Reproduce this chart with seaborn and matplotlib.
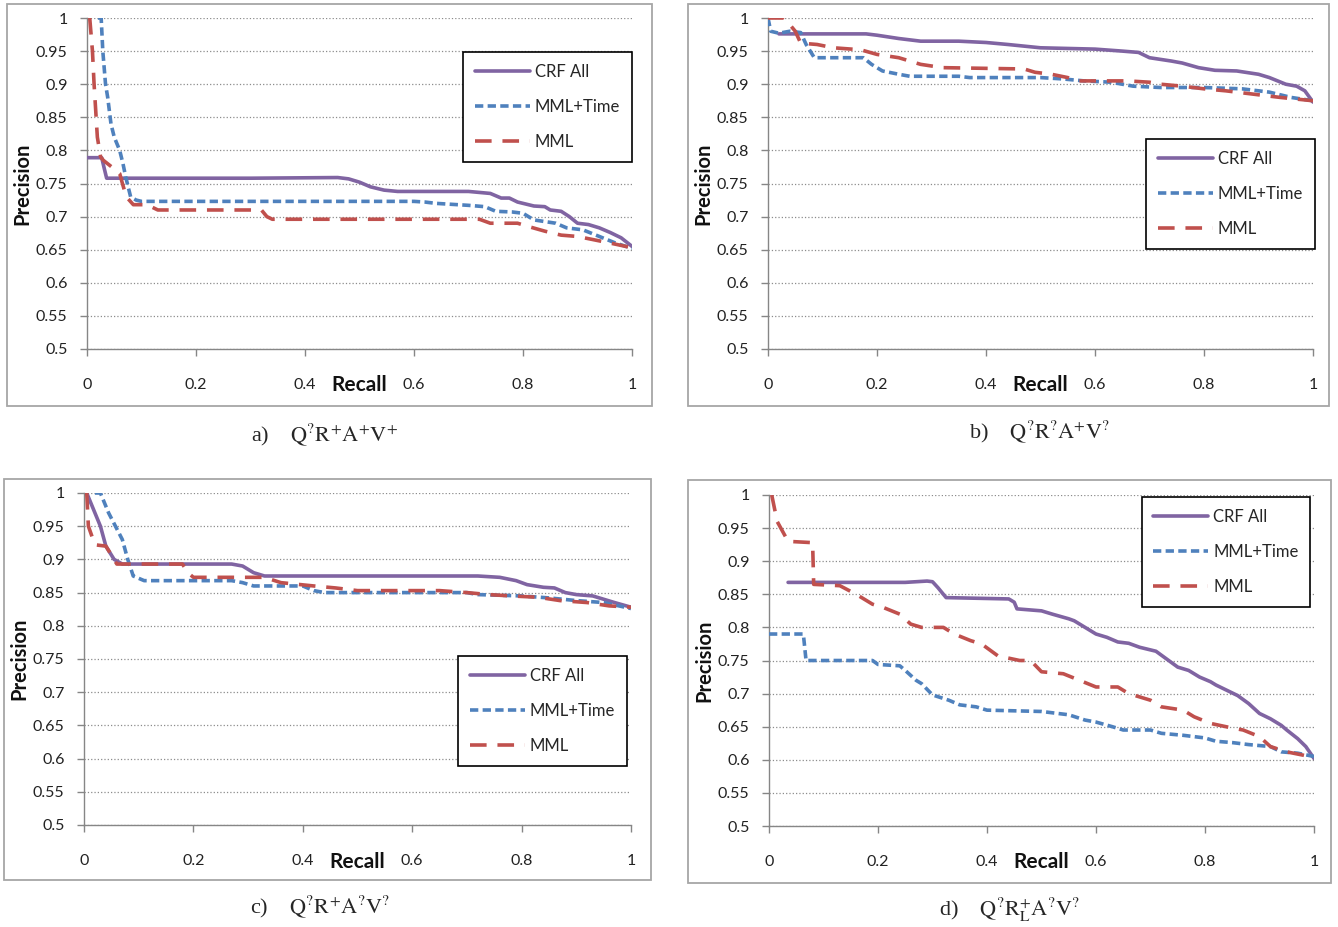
import numpy as np
import pandas as pd
import seaborn as sns
import matplotlib.pyplot as plt
from matplotlib.lines import Line2D
from matplotlib.patches import Rectangle

sns.set_style("ticks")
plt.rcParams['font.family'] = ['Lato', 'DejaVu Sans']
plt.rcParams['mathtext.fontset'] = 'stix'

methods = ["CRF All", "MML+Time", "MML"]
colors = {"CRF All": "#8064A2", "MML+Time": "#4F81BD", "MML": "#C0504D"}
dash_styles = {"CRF All": "", "MML+Time": (2.3, 1.2), "MML": (4.6, 3.0)}

xticks = [0, 0.2, 0.4, 0.6, 0.8, 1]
xticklabels = ["0", "0.2", "0.4", "0.6", "0.8", "1"]
yticks = [0.5, 0.55, 0.6, 0.65, 0.7, 0.75, 0.8, 0.85, 0.9, 0.95, 1.0]
yticklabels = ["0.5", "0.55", "0.6", "0.65", "0.7", "0.75", "0.8", "0.85", "0.9", "0.95", "1"]

# ---- panel a
a_crf_x = [0.0, 0.027, 0.031, 0.036, 0.10, 0.30, 0.46, 0.48, 0.50, 0.52, 0.545, 0.57, 0.70, 0.74, 0.76,
           0.775, 0.79, 0.80, 0.82, 0.84, 0.85, 0.87, 0.885, 0.90, 0.92, 0.94, 0.96, 0.98, 1.0]
a_crf_y = [0.789, 0.789, 0.775, 0.758, 0.758, 0.758, 0.759, 0.757, 0.752, 0.745, 0.740, 0.738, 0.738, 0.735, 0.728,
           0.728, 0.722, 0.720, 0.716, 0.715, 0.710, 0.708, 0.700, 0.690, 0.688, 0.683, 0.676, 0.668, 0.655]
a_time_x = [0.020, 0.026, 0.029, 0.034, 0.038, 0.044, 0.050, 0.060, 0.066, 0.071, 0.080, 0.090, 0.100, 0.30, 0.60,
            0.62, 0.64, 0.70, 0.73, 0.75, 0.78, 0.80, 0.82, 0.86, 0.88, 0.91, 0.94, 0.97, 1.0]
a_time_y = [1.0, 1.0, 0.95, 0.90, 0.88, 0.84, 0.82, 0.80, 0.78, 0.76, 0.73, 0.725, 0.723, 0.723, 0.723,
            0.722, 0.720, 0.717, 0.715, 0.708, 0.707, 0.705, 0.695, 0.690, 0.683, 0.680, 0.670, 0.660, 0.652]
a_mml_x = [0.005, 0.010, 0.013, 0.016, 0.019, 0.025, 0.030, 0.050, 0.060, 0.065, 0.072, 0.085, 0.11, 0.13,
           0.32, 0.33, 0.34, 0.72, 0.74, 0.79, 0.81, 0.84, 0.87, 0.90, 0.93, 0.96, 1.0]
a_mml_y = [1.0, 0.95, 0.90, 0.86, 0.82, 0.79, 0.785, 0.772, 0.765, 0.75, 0.73, 0.718, 0.718, 0.71,
           0.71, 0.70, 0.696, 0.696, 0.690, 0.690, 0.685, 0.678, 0.672, 0.670, 0.665, 0.660, 0.653]

# ---- panel b
b_crf_x = [0.02, 0.18, 0.20, 0.24, 0.28, 0.35, 0.40, 0.44, 0.50, 0.55, 0.60, 0.65, 0.68, 0.70, 0.74, 0.76,
           0.79, 0.82, 0.86, 0.90, 0.92, 0.95, 0.97, 0.985, 1.0]
b_crf_y = [0.976, 0.976, 0.974, 0.969, 0.965, 0.965, 0.963, 0.960, 0.955, 0.954, 0.953, 0.950, 0.948, 0.940,
           0.935, 0.932, 0.925, 0.921, 0.920, 0.915, 0.910, 0.900, 0.897, 0.890, 0.873]
b_time_x = [0.0, 0.005, 0.02, 0.04, 0.06, 0.07, 0.085, 0.175, 0.19, 0.21, 0.24, 0.26, 0.35, 0.37, 0.50, 0.54,
            0.58, 0.63, 0.67, 0.72, 0.80, 0.87, 0.92, 0.96, 1.0]
b_time_y = [1.0, 0.980, 0.977, 0.980, 0.978, 0.960, 0.940, 0.940, 0.930, 0.920, 0.915, 0.912, 0.912, 0.910,
            0.910, 0.908, 0.905, 0.903, 0.897, 0.895, 0.895, 0.893, 0.888, 0.880, 0.875]
b_mml_x = [0.0, 0.03, 0.05, 0.06, 0.09, 0.12, 0.17, 0.20, 0.24, 0.28, 0.32, 0.47, 0.49, 0.52, 0.55, 0.57,
           0.66, 0.70, 0.72, 0.76, 0.80, 0.84, 0.89, 0.94, 1.0]
b_mml_y = [1.0, 1.0, 0.98, 0.962, 0.96, 0.955, 0.952, 0.945, 0.940, 0.930, 0.925, 0.923, 0.918, 0.915, 0.910,
           0.905, 0.905, 0.903, 0.900, 0.897, 0.893, 0.890, 0.885, 0.880, 0.875]

# ---- panel c
c_crf_x = [0.005, 0.03, 0.04, 0.055, 0.07, 0.27, 0.29, 0.31, 0.33, 0.72, 0.76, 0.79, 0.81, 0.84, 0.86, 0.88,
           0.90, 0.93, 0.95, 0.97, 1.0]
c_crf_y = [1.0, 0.95, 0.92, 0.90, 0.893, 0.893, 0.89, 0.88, 0.875, 0.875, 0.873, 0.868, 0.862, 0.858, 0.857,
           0.850, 0.847, 0.845, 0.840, 0.835, 0.828]
c_time_x = [0.02, 0.03, 0.045, 0.07, 0.08, 0.09, 0.11, 0.27, 0.29, 0.31, 0.40, 0.42, 0.44, 0.70, 0.72, 0.80,
            0.85, 0.90, 0.95, 1.0]
c_time_y = [1.0, 1.0, 0.97, 0.93, 0.90, 0.875, 0.868, 0.868, 0.865, 0.86, 0.86, 0.853, 0.85, 0.85, 0.847,
            0.845, 0.842, 0.838, 0.835, 0.826]
c_mml_x = [0.005, 0.008, 0.02, 0.04, 0.055, 0.06, 0.18, 0.19, 0.20, 0.33, 0.36, 0.42, 0.46, 0.50, 0.65, 0.70,
           0.74, 0.78, 0.83, 0.87, 0.92, 0.96, 1.0]
c_mml_y = [1.0, 0.95, 0.922, 0.92, 0.90, 0.893, 0.893, 0.88, 0.873, 0.873, 0.865, 0.86, 0.857, 0.853, 0.853,
           0.85, 0.847, 0.845, 0.843, 0.838, 0.835, 0.830, 0.828]

# ---- panel d
d_crf_x = [0.035, 0.25, 0.29, 0.30, 0.31, 0.325, 0.44, 0.45, 0.455, 0.50, 0.52, 0.55, 0.56, 0.58, 0.60, 0.62,
           0.64, 0.66, 0.68, 0.71, 0.73, 0.75, 0.77, 0.79, 0.81, 0.82, 0.84, 0.86, 0.88, 0.90, 0.92, 0.94,
           0.95, 0.97, 0.985, 1.0]
d_crf_y = [0.868, 0.868, 0.870, 0.869, 0.860, 0.845, 0.843, 0.838, 0.828, 0.825, 0.820, 0.813, 0.810, 0.800,
           0.790, 0.785, 0.778, 0.776, 0.770, 0.764, 0.752, 0.740, 0.735, 0.725, 0.718, 0.713, 0.705, 0.697,
           0.685, 0.670, 0.662, 0.652, 0.645, 0.632, 0.620, 0.602]
d_time_x = [0.0, 0.063, 0.068, 0.19, 0.20, 0.24, 0.25, 0.27, 0.28, 0.30, 0.33, 0.35, 0.38, 0.40, 0.50, 0.55,
            0.58, 0.60, 0.63, 0.65, 0.70, 0.72, 0.76, 0.80, 0.82, 0.85, 0.88, 0.92, 0.94, 0.97, 1.0]
d_time_y = [0.790, 0.790, 0.750, 0.750, 0.744, 0.742, 0.735, 0.720, 0.715, 0.698, 0.690, 0.683, 0.680, 0.675,
            0.673, 0.668, 0.660, 0.657, 0.650, 0.645, 0.645, 0.640, 0.637, 0.633, 0.628, 0.626, 0.623, 0.620,
            0.612, 0.610, 0.605]
d_mml_x = [0.005, 0.015, 0.035, 0.08, 0.082, 0.13, 0.16, 0.19, 0.21, 0.24, 0.26, 0.28, 0.32, 0.34, 0.37, 0.39,
           0.42, 0.46, 0.48, 0.50, 0.54, 0.57, 0.60, 0.64, 0.66, 0.70, 0.72, 0.76, 0.78, 0.81, 0.85, 0.87,
           0.90, 0.92, 0.95, 0.98, 1.0]
d_mml_y = [1.0, 0.96, 0.93, 0.928, 0.865, 0.863, 0.85, 0.835, 0.83, 0.82, 0.805, 0.80, 0.80, 0.79, 0.78, 0.775,
           0.757, 0.75, 0.75, 0.733, 0.73, 0.72, 0.71, 0.71, 0.70, 0.69, 0.68, 0.675, 0.665, 0.655, 0.648, 0.645,
           0.635, 0.62, 0.612, 0.607, 0.603]

captions = [r"a)    $\mathrm{Q^{?}R^{+}A^{+}V^{+}}$",
            r"b)    $\mathrm{Q^{?}R^{?}A^{+}V^{?}}$",
            r"c)    $\mathrm{Q^{?}R^{+}A^{?}V^{?}}$",
            r"d)    $\mathrm{Q^{?}R^{+}_{L}A^{?}V^{?}}$"]

W, H = 1338, 927
fig = plt.figure(figsize=(W / 100, H / 100), dpi=100)


def frame_df(cx, cy, tx, ty, mx, my):
    parts = []
    for name, xs, ys in zip(methods, [cx, tx, mx], [cy, ty, my]):
        parts.append(pd.DataFrame({"Recall": xs, "Precision": ys, "Method": name}))
    return pd.concat(parts, ignore_index=True)


panels = [
    (frame_df(a_crf_x, a_crf_y, a_time_x, a_time_y, a_mml_x, a_mml_y),
     (87, 632, 18, 349), (7, 652, 4, 406), (0.69, 0.897), (325, 435)),
    (frame_df(b_crf_x, b_crf_y, b_time_x, b_time_y, b_mml_x, b_mml_y),
     (768, 1313, 18, 349), (688, 1329, 4, 406), (0.694, 0.634), (1040, 432)),
    (frame_df(c_crf_x, c_crf_y, c_time_x, c_time_y, c_mml_x, c_mml_y),
     (84, 631, 493, 825), (4, 651, 479, 880), (0.684, 0.509), (320, 907)),
    (frame_df(d_crf_x, d_crf_y, d_time_x, d_time_y, d_mml_x, d_mml_y),
     (769, 1314, 495, 826), (688, 1331, 480, 883), (0.684, 0.994), (1010, 910)),
]

for (df, box, outer, leg_pos, cap_pos), cap in zip(panels, captions):
    x0, x1, y0, y1 = box
    ax = fig.add_axes([x0 / W, 1 - y1 / H, (x1 - x0) / W, (y1 - y0) / H])
    ox0, ox1, oy0, oy1 = outer
    fig.add_artist(Rectangle((ox0 / W, 1 - oy1 / H), (ox1 - ox0) / W, (oy1 - oy0) / H,
                             transform=fig.transFigure, fill=False, ec="#a6a6a6", lw=1.3))

    sns.lineplot(data=df, x="Recall", y="Precision", hue="Method", style="Method",
                 hue_order=methods, style_order=methods, palette=colors, dashes=dash_styles,
                 estimator=None, sort=False, lw=2.6, legend=False, ax=ax, zorder=3)

    ax.set_xlim(0, 1)
    ax.set_ylim(0.5, 1.0)
    ax.set_xticks(xticks)
    ax.set_xticklabels(xticklabels)
    ax.set_yticks(yticks)
    ax.set_yticklabels(yticklabels)
    ax.yaxis.grid(True, linestyle=":", color="#8c8c8c", lw=0.9)
    ax.set_axisbelow(True)
    for s in ["top", "right"]:
        ax.spines[s].set_visible(False)
    for s in ["left", "bottom"]:
        ax.spines[s].set_color("#868686")
        ax.spines[s].set_linewidth(1.0)
    ax.tick_params(axis="x", colors="#868686", length=5, width=1.0, pad=16, labelsize=11.5, labelcolor="#222222")
    ax.tick_params(axis="y", colors="#868686", length=5, width=1.0, pad=9, labelsize=11.5, labelcolor="#222222")

    ax.set_xlabel("Recall", fontsize=15, fontweight="bold", color="#111111")
    ax.xaxis.set_label_coords(0.5, -0.08)
    ax.set_ylabel("Precision", fontsize=14.5, fontweight="bold", color="#111111")
    ax.yaxis.set_label_coords(-0.1, 0.5)

    handles = [Line2D([], [], color=colors[m], lw=2.6,
                      dashes=dash_styles[m] if dash_styles[m] else (None, None)) for m in methods]
    handles[0].set_linestyle("-")
    leg = ax.legend(handles, methods, loc="upper left", bbox_to_anchor=leg_pos, fontsize=12,
                    frameon=True, fancybox=False, framealpha=1, edgecolor="black",
                    handlelength=3.3, handletextpad=0.3, labelspacing=1.15, borderpad=0.7,
                    borderaxespad=0)
    leg.get_frame().set_linewidth(1.2)
    leg.set_zorder(5)

    fig.text(cap_pos[0] / W, 1 - cap_pos[1] / H, cap, ha="center", va="center",
             fontsize=16, family="Liberation Serif")

fig.savefig("out.png", dpi=100)
